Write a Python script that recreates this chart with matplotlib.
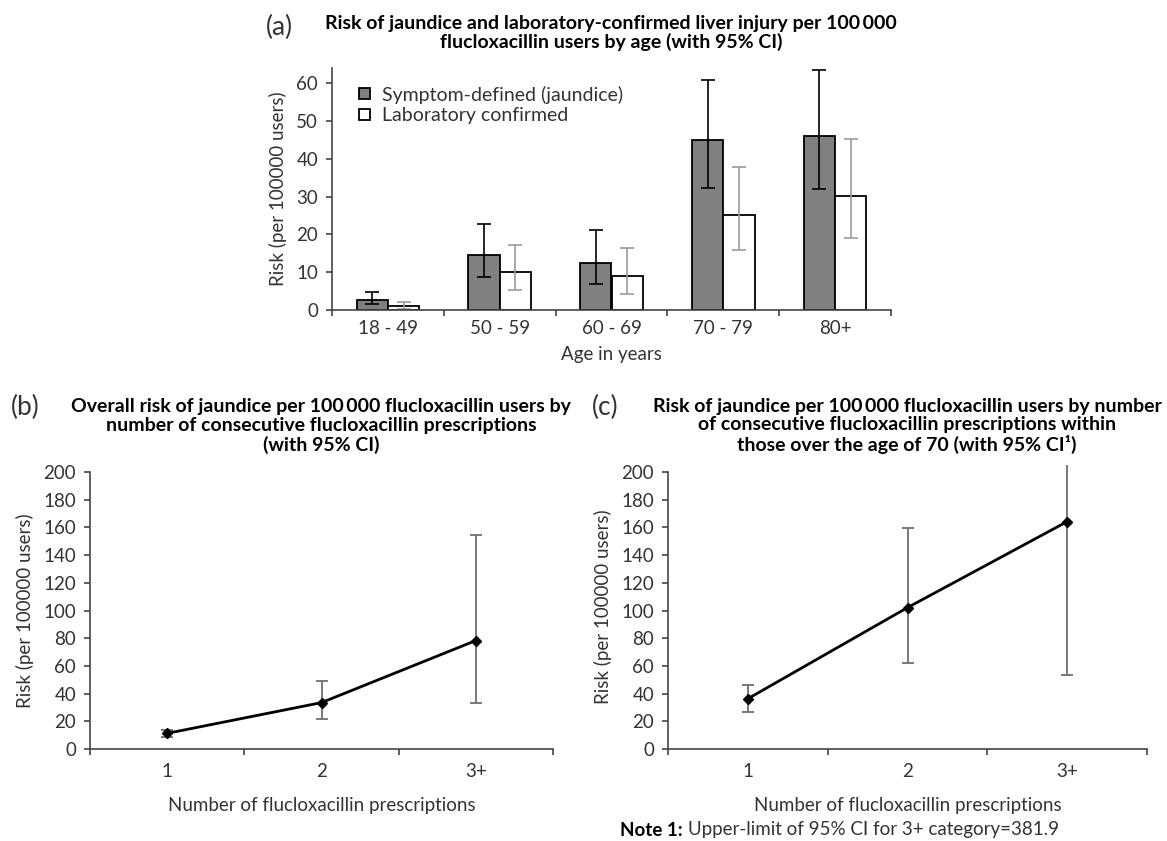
import matplotlib
matplotlib.use("Agg")
import matplotlib.pyplot as plt
import numpy as np

plt.rcParams['font.family'] = ['Lato', 'DejaVu Sans']

# panel (a) data
ages = ['18 - 49', '50 - 59', '60 - 69', '70 - 79', '80+']
sym = [2.7, 14.6, 12.3, 45.0, 46.0]
sym_lo = [1.5, 8.8, 6.8, 32.3, 32.0]
sym_hi = [4.7, 22.8, 21.1, 60.8, 63.6]
lab = [1.0, 10.0, 9.0, 25.2, 30.2]
lab_lo = [0.2, 5.3, 4.2, 15.8, 19.1]
lab_hi = [2.1, 17.1, 16.4, 37.7, 45.1]

# panel (b) data
presc = ['1', '2', '3+']
all_risk = [11.3, 33.5, 78.3]
all_lo = [8.6, 21.6, 33.5]
all_hi = [13.9, 49.3, 154.7]

# panel (c) data
old_risk = [36.3, 102.1, 164.2]
old_lo = [27.0, 62.0, 53.7]
old_hi = [46.5, 159.4, 381.9]

W, H = 1167, 841
txt = '#333333'
fs = 13.5
fig = plt.figure(figsize=(W/100, H/100), dpi=100)


def box(l, r, top, bot):
    return [l/W, 1-bot/H, (r-l)/W, (bot-top)/H]


def ftext(x, y, s, **kw):
    return fig.text(x/W, 1-y/H, s, **kw)


def style(ax, ncat, pad):
    for s in ['top', 'right']:
        ax.spines[s].set_visible(False)
    for s in ['left', 'bottom']:
        ax.spines[s].set_color('#444444')
        ax.spines[s].set_linewidth(1.2)
    ax.set_xlim(-0.5, ncat - 0.5)
    ax.set_xticks(np.arange(ncat + 1) - 0.5)
    ax.set_xticklabels([])
    ax.set_xticks(np.arange(ncat), minor=True)
    ax.tick_params(axis='x', which='major', direction='out', length=4, width=1.2, color='#444444')
    ax.tick_params(axis='x', which='minor', length=0, labelsize=fs, labelcolor=txt, pad=pad)
    ax.tick_params(axis='y', direction='out', length=4, width=1.2, color='#444444',
                   labelsize=fs, labelcolor=txt, pad=6)


# ---- (a)
axa = fig.add_axes(box(332, 891, 68, 310))
x = np.arange(len(ages))
w = 0.28
axa.bar(x - w/2, sym, w, color='#808080', edgecolor='black', linewidth=1.3,
        label='Symptom-defined (jaundice)')
axa.bar(x + w/2, lab, w, color='white', edgecolor='black', linewidth=1.3,
        label='Laboratory confirmed')
axa.errorbar(x - w/2, sym, yerr=[np.subtract(sym, sym_lo), np.subtract(sym_hi, sym)],
             fmt='none', ecolor='black', elinewidth=1.2, capsize=5, capthick=1.2)
axa.errorbar(x + w/2, lab, yerr=[np.subtract(lab, lab_lo), np.subtract(lab_hi, lab)],
             fmt='none', ecolor='#999999', elinewidth=1.2, capsize=5, capthick=1.2)
style(axa, len(ages), 7)
axa.set_xticklabels(ages, minor=True)
axa.set_ylim(0, 64)
axa.set_yticks(range(0, 61, 10))
axa.set_xlabel('Age in years', fontsize=fs, color=txt, labelpad=7)
axa.set_ylabel('Risk (per 100000 users)', fontsize=fs, color=txt, labelpad=7)
axa.legend(loc='upper left', bbox_to_anchor=(0.035, 0.96), frameon=False, fontsize=14,
           handlelength=0.55, handleheight=0.55, handletextpad=0.6, labelspacing=0.2,
           labelcolor=txt, borderaxespad=0)
ftext(266, 27, '(a)', fontsize=19, color=txt, va='center')
ftext(611, 33,
      'Risk of jaundice and laboratory-confirmed liver injury per 100\u2009000\n'
      'flucloxacillin users by age (with 95% CI)',
      fontsize=14, fontweight='bold', ha='center', va='center', linespacing=1.12)


def line_panel(ax, vals, lo, hi, top):
    xs = np.arange(len(presc))
    ax.errorbar(xs, vals, yerr=[np.subtract(vals, lo), np.subtract(hi, vals)],
                fmt='none', ecolor='#6e6e6e', elinewidth=1.3, capsize=4, capthick=1.3)
    ax.plot(xs, vals, color='black', linewidth=2.0, marker='D', markersize=5)
    style(ax, len(presc), 10)
    ax.set_xticklabels(presc, minor=True)
    ax.set_ylim(0, top)
    ax.set_yticks(range(0, 201, 20))
    ax.spines['left'].set_bounds(0, 200)
    ax.set_xlabel('Number of flucloxacillin prescriptions', fontsize=fs, color=txt, labelpad=12)
    ax.set_ylabel('Risk (per 100000 users)', fontsize=fs, color=txt, labelpad=7)


# ---- (b)
axb = fig.add_axes(box(90, 553, 472, 749))
line_panel(axb, all_risk, all_lo, all_hi, 200)
ftext(11, 407, '(b)', fontsize=19, color=txt, va='center')
ftext(321, 426,
      'Overall risk of jaundice per 100\u2009000 flucloxacillin users by\n'
      'number of consecutive flucloxacillin prescriptions\n(with 95% CI)',
      fontsize=14, fontweight='bold', ha='center', va='center', linespacing=1.12)

# ---- (c)
axc = fig.add_axes(box(668, 1147, 472 - 277*5/200, 749))
line_panel(axc, old_risk, old_lo, old_hi, 205)
ftext(592, 407, '(c)', fontsize=19, color=txt, va='center')
ftext(907, 426,
      'Risk of jaundice per 100\u2009000 flucloxacillin users by number\n'
      'of consecutive flucloxacillin prescriptions within\n'
      'those over the age of 70 (with 95% CI\u00b9)',
      fontsize=14, fontweight='bold', ha='center', va='center', linespacing=1.12)

note = ftext(620, 830, 'Note 1:', fontsize=fs, fontweight='bold', va='center')
fig.canvas.draw()
ext = note.get_window_extent()
fig.text((ext.x1 + 5)/W, 1-830/H, 'Upper-limit of 95% CI for 3+ category=381.9',
         fontsize=fs, color=txt, va='center')

fig.savefig('out.png', dpi=100)
